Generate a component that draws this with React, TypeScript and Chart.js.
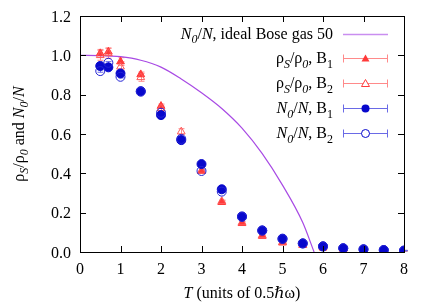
import React, { useEffect, useRef } from "react";
import { Chart, registerables } from "chart.js";
Chart.register(...registerables);

// ---- data ----
const T_POINTS = [0.5, 0.7, 1, 1.5, 2, 2.5, 3, 3.5, 4, 4.5, 5, 5.5, 6, 6.5, 7, 7.5, 8];

const RHO_B1 = [1.010, 1.018, 0.968, 0.903, 0.742, 0.570, 0.412, 0.253, 0.146, 0.081, 0.047, 0.035, 0.022, 0.016, 0.012, 0.009, 0.006];
const RHO_B1_ERR = [0.02, 0.02, 0.02, 0.012, 0.01, 0.01, 0.008, 0.006, 0.005, 0.004, 0.003, 0.003, 0.002, 0.002, 0.002, 0.002, 0.002];
const RHO_B2 = [1.000, 1.010, 0.942, 0.888, 0.730, 0.612, 0.412, 0.258, 0.150, 0.085, 0.050, 0.036, 0.022, 0.016, 0.012, 0.009, 0.006];
const RHO_B2_ERR = [0.025, 0.025, 0.025, 0.02, 0.012, 0.015, 0.01, 0.006, 0.005, 0.004, 0.003, 0.003, 0.002, 0.002, 0.002, 0.002, 0.002];
const N0_B1 = [0.946, 0.939, 0.908, 0.818, 0.696, 0.569, 0.447, 0.319, 0.181, 0.110, 0.068, 0.044, 0.029, 0.019, 0.014, 0.010, 0.007];
const N0_B1_ERR = [0.005, 0.005, 0.005, 0.004, 0.004, 0.004, 0.004, 0.003, 0.003, 0.002, 0.002, 0.002, 0.001, 0.001, 0.001, 0.001, 0.001];
const N0_B2 = [0.920, 0.962, 0.891, 0.815, 0.708, 0.575, 0.412, 0.307, 0.178, 0.108, 0.066, 0.043, 0.028, 0.019, 0.013, 0.010, 0.007];
const N0_B2_ERR = [0.006, 0.006, 0.006, 0.005, 0.005, 0.004, 0.004, 0.003, 0.003, 0.002, 0.002, 0.002, 0.001, 0.001, 0.001, 0.001, 0.001];

const IDEAL_T = [0, 0.5, 1, 1.5, 2, 2.5, 3, 3.5, 4, 4.5, 5, 5.5, 5.78];
const IDEAL_V = [1.0, 0.999, 0.993, 0.975, 0.94, 0.88, 0.81, 0.73, 0.63, 0.5, 0.34, 0.15, 0.0];

const X_TICKS = [0, 1, 2, 3, 4, 5, 6, 7, 8];
const Y_TICKS = [0, 0.2, 0.4, 0.6, 0.8, 1.0, 1.2];

const FONT = "'Liberation Serif', 'DejaVu Serif', serif";
const FS = 16;

const RED = "#ff3a3a";
const RED_LIGHT = "#ff8a8a";
const BLUE = "#0808cc";
const BLUE_LIGHT = "#6a6ae6";
const PURPLE = "#a84ae4";

type Seg = { t: string; it?: boolean; sub?: boolean };

function segFont(s: Seg, size: number) {
  const sz = s.sub ? Math.round(size * 0.72) : size;
  return `${s.it ? "italic " : ""}${sz}px ${FONT}`;
}
function richWidth(ctx: CanvasRenderingContext2D, segs: Seg[], size: number) {
  let w = 0;
  for (const s of segs) {
    ctx.font = segFont(s, size);
    w += ctx.measureText(s.t).width;
  }
  return w;
}
function drawRich(ctx: CanvasRenderingContext2D, segs: Seg[], x: number, y: number, size: number) {
  ctx.textBaseline = "alphabetic";
  ctx.textAlign = "left";
  for (const s of segs) {
    ctx.font = segFont(s, size);
    ctx.fillText(s.t, x, y + (s.sub ? size * 0.28 : 0));
    x += ctx.measureText(s.t).width;
  }
}

const pts = (ys: number[]) => T_POINTS.map((t, i) => ({ x: t, y: ys[i] }));

export default function App() {
  const ref = useRef<HTMLCanvasElement>(null);
  useEffect(() => {
    document.body.style.margin = "0";
    const canvas = ref.current!;
    const errs: (number[] | null)[] = [null, RHO_B1_ERR, RHO_B2_ERR, N0_B1_ERR, N0_B2_ERR];
    const errColors = ["", RED_LIGHT, RED_LIGHT, BLUE_LIGHT, BLUE_LIGHT];

    const gp = {
      id: "gp",
      beforeDatasetsDraw(chart: any) {
        const ctx = chart.ctx as CanvasRenderingContext2D;
        const xs = chart.scales.x;
        const ys = chart.scales.y;
        ctx.save();
        ctx.lineWidth = 1;
        errs.forEach((e, di) => {
          if (!e) return;
          const data = chart.data.datasets[di].data as { x: number; y: number }[];
          ctx.strokeStyle = errColors[di];
          data.forEach((p, i) => {
            const x = Math.round(xs.getPixelForValue(p.x)) + 0.5;
            const y1 = ys.getPixelForValue(p.y - e[i]);
            const y2 = ys.getPixelForValue(p.y + e[i]);
            ctx.beginPath();
            ctx.moveTo(x, y1);
            ctx.lineTo(x, y2);
            ctx.moveTo(x - 3, y1);
            ctx.lineTo(x + 3, y1);
            ctx.moveTo(x - 3, y2);
            ctx.lineTo(x + 3, y2);
            ctx.stroke();
          });
        });
        ctx.restore();
      },
      afterDraw(chart: any) {
        const ctx = chart.ctx as CanvasRenderingContext2D;
        const a = chart.chartArea;
        const xs = chart.scales.x;
        const ys = chart.scales.y;
        ctx.save();
        ctx.strokeStyle = "#000";
        ctx.lineWidth = 1;
        // frame
        ctx.strokeRect(Math.round(a.left) + 0.5, Math.round(a.top) + 0.5, Math.round(a.right - a.left), Math.round(a.bottom - a.top));
        // inward ticks
        ctx.beginPath();
        X_TICKS.forEach((t) => {
          const x = Math.round(xs.getPixelForValue(t)) + 0.5;
          ctx.moveTo(x, a.bottom);
          ctx.lineTo(x, a.bottom - 6);
          ctx.moveTo(x, a.top);
          ctx.lineTo(x, a.top + 6);
        });
        Y_TICKS.forEach((t) => {
          const y = Math.round(ys.getPixelForValue(t)) + 0.5;
          ctx.moveTo(a.left, y);
          ctx.lineTo(a.left + 6, y);
          ctx.moveTo(a.right, y);
          ctx.lineTo(a.right - 6, y);
        });
        ctx.stroke();

        // tick labels
        ctx.fillStyle = "#000";
        ctx.font = `${FS}px ${FONT}`;
        ctx.textBaseline = "alphabetic";
        ctx.textAlign = "center";
        X_TICKS.forEach((t) => {
          ctx.fillText(String(t), xs.getPixelForValue(t), a.bottom + 22);
        });
        ctx.textAlign = "right";
        Y_TICKS.forEach((t) => {
          ctx.fillText(t.toFixed(1), a.left - 9, ys.getPixelForValue(t) + 5.5);
        });

        // legend
        const textRight = 333;
        const sx1 = 343;
        const sx2 = 388;
        const mx = 365.5;
        const entries: { segs: Seg[]; kind: string; color: string; lcolor: string }[] = [
          { segs: [{ t: "N", it: true }, { t: "0", it: true, sub: true }, { t: "/" }, { t: "N", it: true }, { t: ", ideal Bose gas 50" }], kind: "line", color: PURPLE, lcolor: "#c98ef0" },
          { segs: [{ t: "ρ" }, { t: "S", it: true, sub: true }, { t: "/ρ" }, { t: "0", it: true, sub: true }, { t: ", B" }, { t: "1", sub: true }], kind: "triF", color: RED, lcolor: RED_LIGHT },
          { segs: [{ t: "ρ" }, { t: "S", it: true, sub: true }, { t: "/ρ" }, { t: "0", it: true, sub: true }, { t: ", B" }, { t: "2", sub: true }], kind: "triO", color: RED, lcolor: RED_LIGHT },
          { segs: [{ t: "N", it: true }, { t: "0", it: true, sub: true }, { t: "/" }, { t: "N", it: true }, { t: ", B" }, { t: "1", sub: true }], kind: "cirF", color: BLUE, lcolor: BLUE_LIGHT },
          { segs: [{ t: "N", it: true }, { t: "0", it: true, sub: true }, { t: "/" }, { t: "N", it: true }, { t: ", B" }, { t: "2", sub: true }], kind: "cirO", color: BLUE, lcolor: BLUE_LIGHT },
        ];
        entries.forEach((en, i) => {
          const base = 38.5 + i * 24.9;
          const w = richWidth(ctx, en.segs, FS);
          ctx.fillStyle = "#000";
          drawRich(ctx, en.segs, textRight - w, base, FS);
          const ly = Math.round(base - 5) + 0.5;
          ctx.strokeStyle = en.lcolor;
          ctx.lineWidth = en.kind === "line" ? 1.5 : 1;
          ctx.beginPath();
          ctx.moveTo(sx1, ly);
          ctx.lineTo(sx2, ly);
          if (en.kind !== "line") {
            ctx.moveTo(sx1 + 0.5, ly - 4);
            ctx.lineTo(sx1 + 0.5, ly + 4);
            ctx.moveTo(sx2 - 0.5, ly - 4);
            ctx.lineTo(sx2 - 0.5, ly + 4);
          }
          ctx.stroke();
          ctx.lineWidth = 1;
          ctx.strokeStyle = en.color;
          ctx.fillStyle = en.color;
          if (en.kind === "triF" || en.kind === "triO") {
            ctx.beginPath();
            ctx.moveTo(mx, ly - 4);
            ctx.lineTo(mx + 4, ly + 3);
            ctx.lineTo(mx - 4, ly + 3);
            ctx.closePath();
            if (en.kind === "triF") ctx.fill();
            else {
              ctx.fillStyle = "#fff";
              ctx.fill();
              ctx.stroke();
            }
          } else if (en.kind === "cirF" || en.kind === "cirO") {
            ctx.beginPath();
            ctx.arc(mx, ly, 4, 0, Math.PI * 2);
            if (en.kind === "cirF") ctx.fill();
            else {
              ctx.fillStyle = "#fff";
              ctx.fill();
              ctx.stroke();
            }
          }
        });

        // axis titles
        ctx.fillStyle = "#000";
        const xt: Seg[] = [{ t: "T", it: true }, { t: " (units of 0.5ℏω)" }];
        const xw = richWidth(ctx, xt, FS);
        drawRich(ctx, xt, (a.left + a.right) / 2 - xw / 2, 297.5, FS);

        const yt: Seg[] = [
          { t: "ρ" }, { t: "S", it: true, sub: true }, { t: "/ρ" }, { t: "0", it: true, sub: true },
          { t: " and " }, { t: "N", it: true }, { t: "0", it: true, sub: true }, { t: "/" }, { t: "N", it: true },
        ];
        const yw = richWidth(ctx, yt, FS);
        ctx.translate(23.5, (a.top + a.bottom) / 2);
        ctx.rotate(-Math.PI / 2);
        drawRich(ctx, yt, -yw / 2, 0, FS);
        ctx.restore();
      },
    };

    const chart = new Chart(canvas, {
      type: "scatter",
      data: {
        datasets: [
          {
            label: "ideal",
            data: IDEAL_T.map((t, i) => ({ x: t, y: IDEAL_V[i] })),
            showLine: true,
            borderColor: PURPLE,
            borderWidth: 1.2,
            pointRadius: 0,
            cubicInterpolationMode: "monotone",
            order: 5,
          } as any,
          {
            label: "rho B1",
            data: pts(RHO_B1),
            pointStyle: "triangle",
            pointRadius: 4.5,
            backgroundColor: RED,
            borderColor: RED,
            borderWidth: 1,
            order: 4,
          },
          {
            label: "rho B2",
            data: pts(RHO_B2),
            pointStyle: "triangle",
            pointRadius: 4.5,
            backgroundColor: "rgba(0,0,0,0)",
            borderColor: "#ff5a5a",
            borderWidth: 1,
            order: 3,
          },
          {
            label: "N0 B1",
            data: pts(N0_B1),
            pointStyle: "circle",
            pointRadius: 4.5,
            backgroundColor: BLUE,
            borderColor: BLUE,
            borderWidth: 1,
            order: 2,
          },
          {
            label: "N0 B2",
            data: pts(N0_B2),
            pointStyle: "circle",
            pointRadius: 4.5,
            backgroundColor: "rgba(0,0,0,0)",
            borderColor: "#2222d4",
            borderWidth: 1,
            order: 1,
          },
        ],
      },
      options: {
        responsive: false,
        animation: false,
        layout: { padding: { left: 0, right: 32, top: 16, bottom: 0 } },
        plugins: { legend: { display: false }, tooltip: { enabled: false } },
        scales: {
          x: {
            type: "linear",
            min: 0,
            max: 8,
            afterFit: (s: any) => {
              s.height = 53;
            },
            ticks: { display: false, stepSize: 1 },
            grid: { display: false, drawTicks: false },
            border: { display: false },
          },
          y: {
            type: "linear",
            min: 0,
            max: 1.2,
            afterFit: (s: any) => {
              s.width = 80;
            },
            ticks: { display: false, stepSize: 0.2 },
            grid: { display: false, drawTicks: false },
            border: { display: false },
          },
        },
      },
      plugins: [gp],
    } as any);
    return () => chart.destroy();
  }, []);
  return (
    <div style={{ position: "absolute", left: 0, top: 0, width: 436, height: 305 }}>
      <canvas ref={ref} width={436} height={305} style={{ width: 436, height: 305, display: "block" }} />
    </div>
  );
}
